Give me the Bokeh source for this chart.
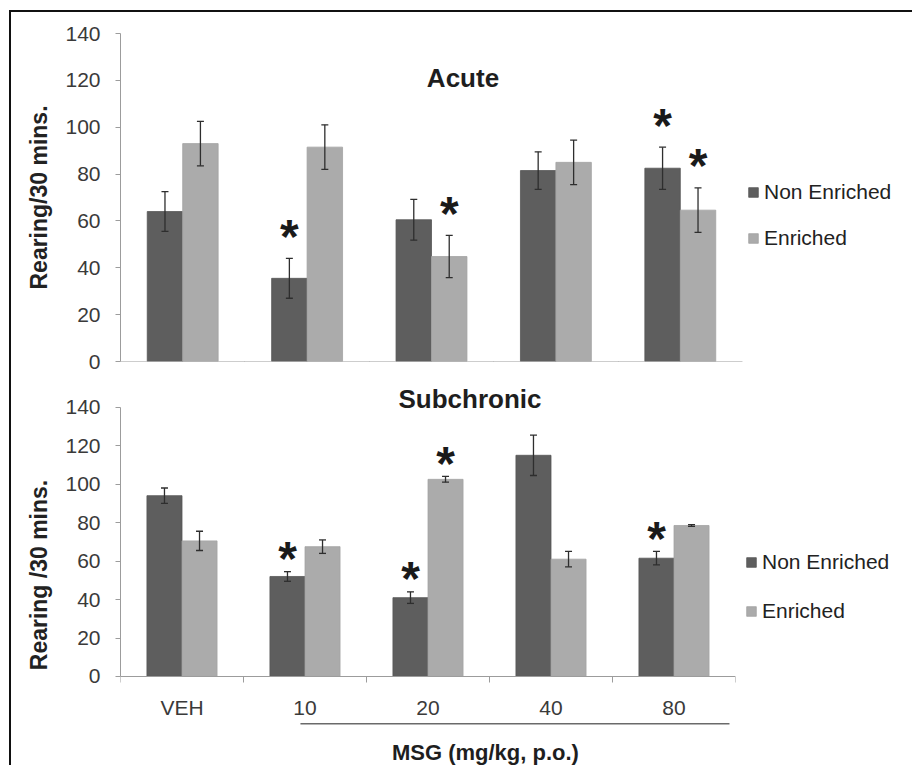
from bokeh.plotting import figure
from bokeh.models import (ColumnDataSource, Range1d, FixedTicker, LinearAxis, Whisker,
                          TeeHead, Legend, LegendItem, Label)
from bokeh.transform import dodge
from bokeh.layouts import column
from bokeh.core.properties import value
from bokeh.embed import file_html
from bokeh.resources import INLINE

# ---------------- data ----------------
categories = ["VEH", "10", "20", "40", "80"]
series_names = ["Non Enriched", "Enriched"]

acute_non = [64, 35.5, 60.5, 81.5, 82.5]
acute_non_err = [8.5, 8.5, 8.7, 8.0, 9.0]
acute_enr = [93, 91.5, 44.8, 85, 64.6]
acute_enr_err = [9.5, 9.5, 9.0, 9.5, 9.5]
acute_non_sig = [0, 1, 0, 0, 1]
acute_enr_sig = [0, 0, 1, 0, 1]

sub_non = [94, 52, 41, 115, 61.5]
sub_non_err = [4.0, 2.5, 3.0, 10.5, 3.5]
sub_enr = [70.5, 67.5, 102.5, 61, 78.5]
sub_enr_err = [5.0, 3.5, 1.5, 4.0, 0.5]
sub_non_sig = [0, 1, 1, 0, 1]
sub_enr_sig = [0, 0, 1, 0, 0]

y_ticks = [0, 20, 40, 60, 80, 100, 120, 140]

# ---------------- style ----------------
FONT = "Liberation Sans"
DARK = "#5e5e5e"
LIGHT = "#ababab"
AXIS = "#9c9c9c"
TXT = "#3a3a3a"
ERR = "#2e2e2e"
W = 0.285


def make_panel(non, non_err, enr, enr_err, non_sig, enr_sig, ylabel, show_labels,
               frame_w, frame_h, y_start, y_end, mb_top, mb_bottom,
               legend_loc, legend_spacing, star_dy):
    p = figure(output_backend="svg", toolbar_location=None,
               frame_width=frame_w, frame_height=frame_h,
               x_range=Range1d(0, len(categories)), y_range=Range1d(y_start, y_end),
               x_axis_location=None, y_axis_location=None,
               min_border_left=109, min_border_right=160,
               min_border_top=mb_top, min_border_bottom=mb_bottom,
               background_fill_color="white", border_fill_color="white")
    p.grid.visible = False
    p.outline_line_color = None

    xs = [i + 0.5 for i in range(len(categories))]
    src = ColumnDataSource(dict(
        x=xs, non=non, enr=enr,
        non_hi=[v + e for v, e in zip(non, non_err)],
        non_lo=[v - e for v, e in zip(non, non_err)],
        enr_hi=[v + e for v, e in zip(enr, enr_err)],
        enr_lo=[v - e for v, e in zip(enr, enr_err)],
    ))

    r1 = p.vbar(x=dodge("x", -W / 2), top="non", bottom=0, width=W, source=src,
                fill_color=DARK, line_color="#575757", line_width=0.8)
    r2 = p.vbar(x=dodge("x", W / 2), top="enr", bottom=0, width=W, source=src,
                fill_color=LIGHT, line_color="#a3a3a3", line_width=0.8)

    for off, hi, lo in [(-W / 2, "non_hi", "non_lo"), (W / 2, "enr_hi", "enr_lo")]:
        wk = Whisker(source=src, base=dodge("x", off), upper=hi, lower=lo, level="overlay",
                     line_color=ERR, line_width=1.3,
                     upper_head=TeeHead(size=7, line_color=ERR, line_width=1.3),
                     lower_head=TeeHead(size=7, line_color=ERR, line_width=1.3))
        p.add_layout(wk)

    # significance asterisks
    for off, sig, vals, errs in [(-W / 2, non_sig, non, non_err), (W / 2, enr_sig, enr, enr_err)]:
        idx = [i for i, s in enumerate(sig) if s]
        ssrc = ColumnDataSource(dict(x=[xs[i] for i in idx],
                                     y=[vals[i] + errs[i] for i in idx],
                                     t=["*"] * len(idx)))
        p.text(x=dodge("x", off), y="y", text="t", source=ssrc,
               text_font=value(FONT), text_font_size="48px", text_font_style="bold",
               text_align="center", text_baseline="alphabetic", y_offset=star_dy,
               text_color="#1a1a1a")

    # y axis
    yax = LinearAxis(ticker=FixedTicker(ticks=y_ticks), bounds=(0, 140),
                     axis_label=ylabel, axis_label_text_font=FONT,
                     axis_label_text_font_size="23px", axis_label_text_font_style="bold",
                     axis_label_text_color="#222222", axis_label_standoff=10,
                     major_label_text_font=FONT, major_label_text_font_size="21px",
                     major_label_text_color=TXT, major_label_standoff=15,
                     major_tick_out=5, major_tick_in=0, minor_tick_line_color=None,
                     axis_line_color=AXIS, major_tick_line_color=AXIS)
    p.add_layout(yax, "left")

    # x axis: ticks at category boundaries, labels at centres
    overrides = {x: (c if show_labels else "") for x, c in zip(xs, categories)}
    xax = LinearAxis(ticker=FixedTicker(ticks=xs, minor_ticks=list(range(len(categories) + 1))),
                     fixed_location=0, bounds=(0, len(categories)),
                     major_label_overrides=overrides,
                     major_label_text_font=FONT, major_label_text_font_size="21px",
                     major_label_text_color=TXT, major_label_standoff=14,
                     major_tick_line_color=None, major_tick_out=0, major_tick_in=0,
                     minor_tick_out=6, minor_tick_in=0, minor_tick_line_color=AXIS,
                     axis_line_color=AXIS)
    p.add_layout(xax, "below")

    legend = Legend(items=[LegendItem(label=series_names[0], renderers=[r1]),
                           LegendItem(label=series_names[1], renderers=[r2])],
                    location=legend_loc, padding=0, margin=0,
                    border_line_color=None, background_fill_alpha=0,
                    label_text_font=FONT, label_text_font_size="21px",
                    label_text_color="#222222", glyph_width=12, glyph_height=12,
                    label_height=24, spacing=legend_spacing, label_standoff=5)
    p.add_layout(legend, "right")
    return p


p1 = make_panel(acute_non, acute_non_err, acute_enr, acute_enr_err, acute_non_sig, acute_enr_sig,
                "Rearing/30 mins.", False, 622, 328, 0, 140, 21, 19, (5, 111), 22, -22)
p1.add_layout(Label(x=2.753, y=121, text="Acute", text_font=FONT, text_font_size="26px",
                    text_font_style="bold", text_align="center", text_baseline="middle",
                    text_color="#1e1e1e"))

p2 = make_panel(sub_non, sub_non_err, sub_enr, sub_enr_err, sub_non_sig, sub_enr_sig,
                "Rearing /30 mins.", True, 615, 385, -47.31, 152.84, 2, 0, (10, 144), 25, -13)
p2.add_layout(Label(x=2.841, y=144.5, text="Subchronic", text_font=FONT, text_font_size="26px",
                    text_font_style="bold", text_align="center", text_baseline="middle",
                    text_color="#1e1e1e"))
p2.segment(x0=[1.463], y0=[-24.6], x1=[4.951], y1=[-24.6], line_color="#6a6a6a", line_width=1.6)
p2.add_layout(Label(x=2.967, y=-39.5, text="MSG (mg/kg, p.o.)", text_font=FONT,
                    text_font_size="22px", text_font_style="bold", text_align="center",
                    text_baseline="middle", text_color="#1e1e1e"))

layout = column(p1, p2, margin=(12, 0, 0, 11),
                styles={"box-shadow": "-2px -2px 0 0 #111111"})

open("out.html", "w").write(file_html(layout, INLINE))
